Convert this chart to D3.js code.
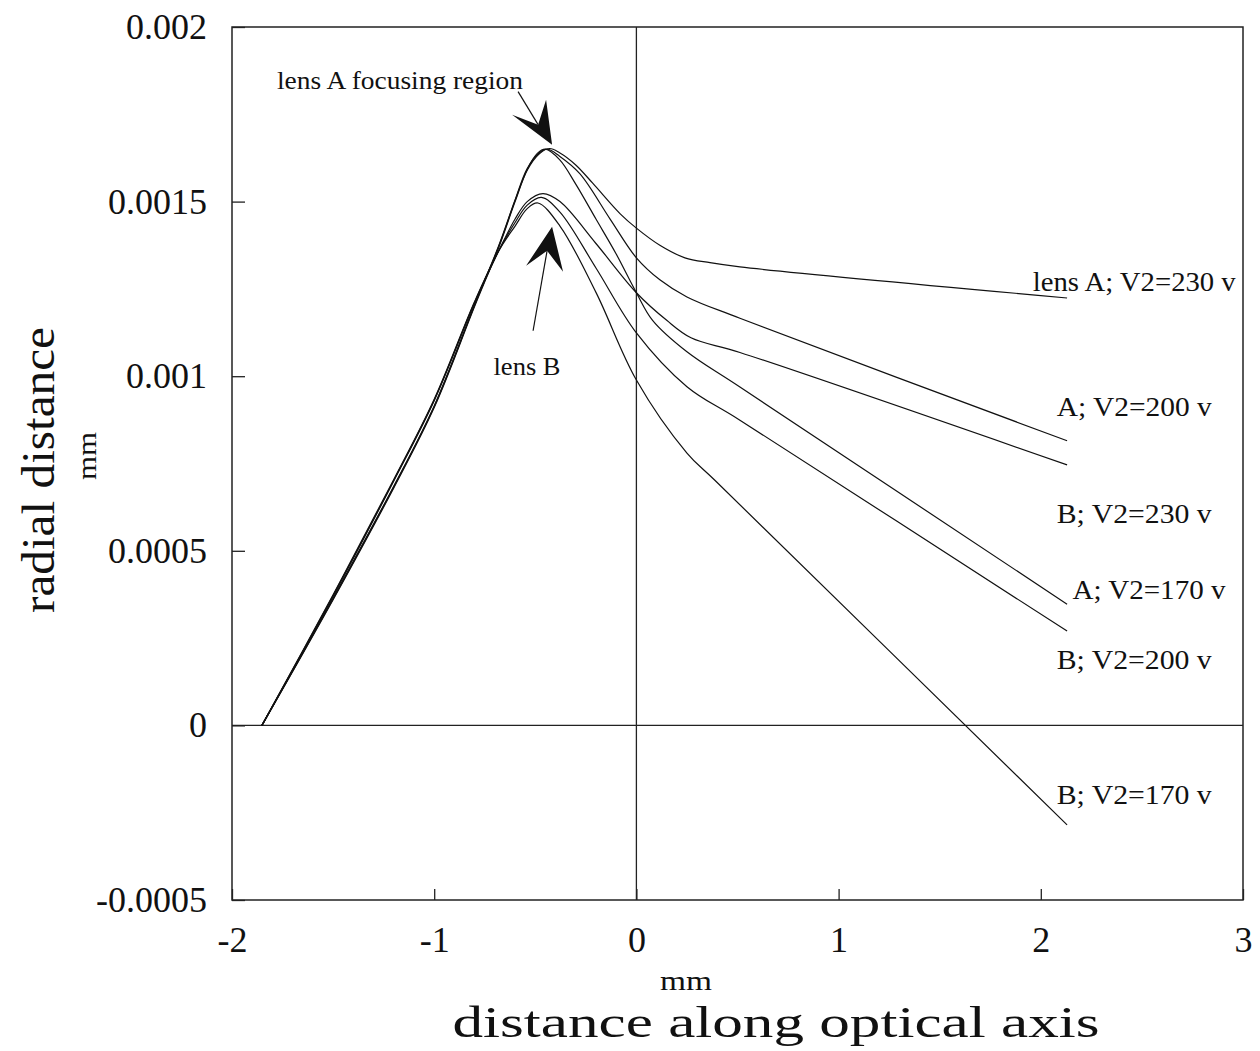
<!DOCTYPE html>
<html>
<head>
<meta charset="utf-8">
<script src="https://cdn.jsdelivr.net/npm/d3@7"></script>
<style>
  body { margin: 0; background: #fff; }
  text { font-family: "Liberation Serif", "Times New Roman", serif; fill: #111; }
</style>
</head>
<body>
<script>
// data: [distance along axis (mm), radial distance (mm)]
var lensA230 = [[-1.852,0],[-1.5,0.00036],[-1.2,0.00068],[-1.0,0.00091],[-0.8,0.0012],[-0.68,0.00137],[-0.6,0.0015],[-0.54,0.00159],[-0.48,0.001637],[-0.43,0.001652],[-0.38,0.00164],[-0.3,0.001605],[-0.215,0.001552],[-0.08,0.001465],[0,0.001424],[0.116,0.001375],[0.24,0.001339],[0.364,0.001325],[0.512,0.001313],[2.13,0.001224]];
var lensA200 = [[-1.852,0],[-1.5,0.000365],[-1.2,0.000685],[-1.0,0.000915],[-0.8,0.001205],[-0.68,0.001375],[-0.6,0.001505],[-0.54,0.001595],[-0.48,0.00164],[-0.44,0.00165],[-0.38,0.00163],[-0.28,0.00158],[-0.13,0.00145],[0,0.001339],[0.116,0.001276],[0.25,0.001227],[0.512,0.001166],[2.13,0.000815]];
var lensA170 = [[-1.852,0],[-1.5,0.000362],[-1.2,0.000683],[-1.0,0.000913],[-0.8,0.001203],[-0.68,0.001373],[-0.6,0.001503],[-0.54,0.001592],[-0.49,0.001638],[-0.45,0.00165],[-0.38,0.00162],[-0.3,0.00155],[-0.2,0.00145],[-0.1,0.00135],[0,0.001239],[0.08,0.00116],[0.25,0.00107],[0.512,0.000969],[2.13,0.000347]];
var lensB230 = [[-1.852,0],[-1.5,0.00037],[-1.2,0.0007],[-1.0,0.00093],[-0.8,0.00121],[-0.68,0.00136],[-0.6,0.00145],[-0.54,0.0015],[-0.462,0.001523],[-0.378,0.0015],[-0.2,0.00138],[0,0.001239],[0.15,0.00116],[0.27,0.00111],[0.512,0.001068],[2.13,0.000746]];
var lensB200 = [[-1.852,0],[-1.5,0.000372],[-1.2,0.000702],[-1.0,0.000932],[-0.8,0.001212],[-0.68,0.00136],[-0.6,0.00144],[-0.54,0.00149],[-0.47,0.001512],[-0.378,0.00147],[-0.2,0.00131],[0,0.001124],[0.25,0.00097],[0.512,0.000874],[2.13,0.00027]];
var lensB170 = [[-1.852,0],[-1.5,0.000374],[-1.2,0.000704],[-1.0,0.000934],[-0.8,0.001214],[-0.68,0.00136],[-0.6,0.00143],[-0.54,0.00148],[-0.487,0.001496],[-0.378,0.00143],[-0.2,0.00124],[0,0.000989],[0.25,0.00078],[0.388,0.000702],[2.13,-0.000285]];

var seriesData = [lensA230, lensA200, lensB230, lensA170, lensB200, lensB170];
var seriesNames = ["lens A; V2=230 v", "A; V2=200 v", "B; V2=230 v", "A; V2=170 v", "B; V2=200 v", "B; V2=170 v"];

var xTicks = [-2, -1, 0, 1, 2, 3];
var xTickLabels = ["-2", "-1", "0", "1", "2", "3"];
var yTicks = [-0.0005, 0, 0.0005, 0.001, 0.0015, 0.002];
var yTickLabels = ["-0.0005", "0", "0.0005", "0.001", "0.0015", "0.002"];

// label placement (data units) for the series names
var labelX = [2.462, 2.462, 2.462, 2.535, 2.462, 2.462];
var labelY = [0.001244, 0.000886, 0.00058, 0.000361, 0.000161, -0.000226];
var labelW = [203, 155, 155, 153, 155, 155];

var width = 1260, height = 1051;

var svg = d3.select("body").append("svg")
    .attr("width", width)
    .attr("height", height);

var x = d3.scaleLinear().domain([-2, 3]).range([232, 1243]);
var y = d3.scaleLinear().domain([-0.0005, 0.002]).range([900, 27]);

// frame
svg.append("rect")
    .attr("x", x(-2)).attr("y", y(0.002))
    .attr("width", x(3) - x(-2)).attr("height", y(-0.0005) - y(0.002))
    .attr("fill", "none").attr("stroke", "#222").attr("stroke-width", 1.5);

// zero lines
svg.append("line")
    .attr("x1", x(0)).attr("x2", x(0)).attr("y1", y(0.002)).attr("y2", y(-0.0005))
    .attr("stroke", "#222").attr("stroke-width", 1.3);
svg.append("line")
    .attr("x1", x(-2)).attr("x2", x(3)).attr("y1", y(0)).attr("y2", y(0))
    .attr("stroke", "#222").attr("stroke-width", 1.3);

// x axis (ticks pointing inward)
var xAxis = svg.append("g")
    .attr("transform", "translate(0," + y(-0.0005) + ")")
    .call(d3.axisBottom(x).tickValues(xTicks).tickSize(-11).tickPadding(26)
        .tickFormat(function(d, i) { return xTickLabels[i]; }));
xAxis.select(".domain").remove();
xAxis.selectAll("line").attr("stroke", "#222").attr("stroke-width", 1.3);
xAxis.selectAll("text").attr("font-size", 36).attr("font-family", "Liberation Serif").attr("fill", "#111");

// y axis
var yAxis = svg.append("g")
    .attr("transform", "translate(" + x(-2) + ",0)")
    .call(d3.axisLeft(y).tickValues(yTicks).tickSize(-13).tickPadding(25)
        .tickFormat(function(d, i) { return yTickLabels[i]; }));
yAxis.select(".domain").remove();
yAxis.selectAll("line").attr("stroke", "#222").attr("stroke-width", 1.3);
yAxis.selectAll("text").attr("font-size", 36).attr("font-family", "Liberation Serif").attr("fill", "#111");

// curves
var line = d3.line()
    .x(function(d) { return x(d[0]); })
    .y(function(d) { return y(d[1]); })
    .curve(d3.curveCatmullRom.alpha(0.5));

svg.selectAll("path.curve")
    .data(seriesData)
    .enter()
    .append("path")
    .attr("class", "curve")
    .attr("d", line)
    .attr("fill", "none")
    .attr("stroke", "#111")
    .attr("stroke-width", 1.2);

// series labels
svg.selectAll("text.lbl")
    .data(seriesNames)
    .enter()
    .append("text")
    .attr("class", "lbl")
    .attr("x", function(d, i) { return x(labelX[i]); })
    .attr("y", function(d, i) { return y(labelY[i]); })
    .attr("text-anchor", "middle")
    .attr("font-size", 27)
    .attr("textLength", function(d, i) { return labelW[i]; })
    .attr("lengthAdjust", "spacingAndGlyphs")
    .text(function(d) { return d; });

// arrows pointing at the focusing regions
function arrow(tipX, tipY, leadDx, leadDy, shape) {
    var tx = x(tipX), ty = y(tipY);
    svg.append("line")
        .attr("x1", tx + shape[1][0]).attr("y1", ty + shape[1][1])
        .attr("x2", tx + leadDx).attr("y2", ty + leadDy)
        .attr("stroke", "#111").attr("stroke-width", 1.2);
    svg.append("path")
        .attr("d", "M" + tx + "," + ty +
            "L" + (tx + shape[0][0]) + "," + (ty + shape[0][1]) +
            "L" + (tx + shape[1][0]) + "," + (ty + shape[1][1]) +
            "L" + (tx + shape[2][0]) + "," + (ty + shape[2][1]) + "Z")
        .attr("fill", "#111");
}
arrow(-0.417, 0.001663, -34, -53, [[-40, -30], [-14, -20], [-6, -45]]);
arrow(-0.417, 0.001428, -19, 104, [[-26, 39], [-5, 24], [11, 45]]);

svg.append("text")
    .attr("x", 400).attr("y", 89)
    .attr("text-anchor", "middle")
    .attr("font-size", 25)
    .attr("textLength", 246).attr("lengthAdjust", "spacingAndGlyphs")
    .text("lens A focusing region");

svg.append("text")
    .attr("x", 527).attr("y", 375)
    .attr("text-anchor", "middle")
    .attr("font-size", 25)
    .attr("textLength", 67).attr("lengthAdjust", "spacingAndGlyphs")
    .text("lens B");

// axis titles
svg.append("text")
    .attr("x", 686).attr("y", 990)
    .attr("text-anchor", "middle")
    .attr("font-size", 27)
    .attr("textLength", 52).attr("lengthAdjust", "spacingAndGlyphs")
    .text("mm");

svg.append("text")
    .attr("x", 776).attr("y", 1037)
    .attr("text-anchor", "middle")
    .attr("font-size", 44)
    .attr("textLength", 647).attr("lengthAdjust", "spacingAndGlyphs")
    .text("distance along optical axis");

svg.append("text")
    .attr("transform", "translate(54,470) rotate(-90)")
    .attr("text-anchor", "middle")
    .attr("font-size", 46)
    .attr("textLength", 286).attr("lengthAdjust", "spacingAndGlyphs")
    .text("radial distance");

svg.append("text")
    .attr("transform", "translate(96,456) rotate(-90)")
    .attr("text-anchor", "middle")
    .attr("font-size", 28)
    .attr("textLength", 48).attr("lengthAdjust", "spacingAndGlyphs")
    .text("mm");
</script>
</body>
</html>
